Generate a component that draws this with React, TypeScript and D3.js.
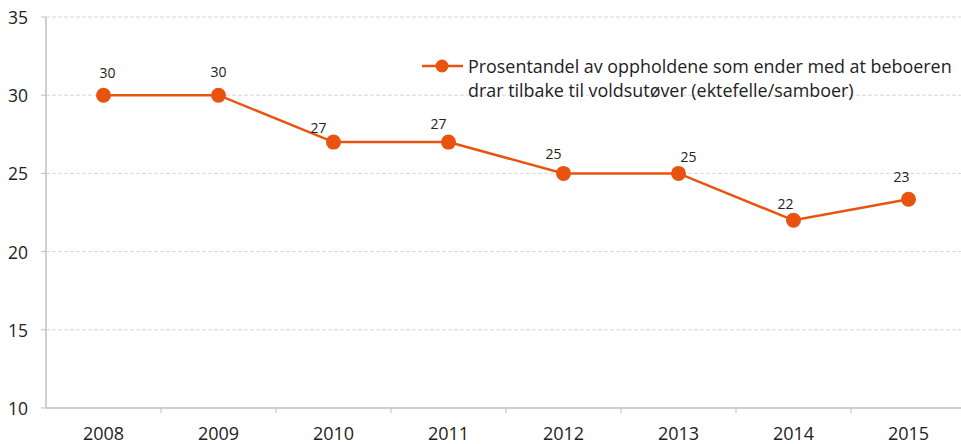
import React from "react";
import * as d3 from "d3";

const years = ["2008", "2009", "2010", "2011", "2012", "2013", "2014", "2015"];
const values = [30, 30, 27, 27, 25, 25, 22, 23.35];
const labels = ["30", "30", "27", "27", "25", "25", "22", "23"];
const yTicks = [10, 15, 20, 25, 30, 35];
const legendLines = [
  "Prosentandel av oppholdene som ender med at beboeren",
  "drar tilbake til voldsutøver (ektefelle/samboer)",
];
// label placement offsets (style), in px relative to each point
const labelDx = [4, 0, -15, -10, -10, 10, -8, -7];
const labelDy = [-23, -24, -15, -19, -20, -17, -17, -23];

const W = 961;
const H = 444;
const COLOR = "#E8540F";
const FONT = "'Open Sans', 'Liberation Sans', sans-serif";

export default function App() {
  const x = d3.scaleBand<string>().domain(years).range([46, 966]);
  const y = d3.scaleLinear().domain([10, 35]).range([408, 17]);
  const cx = (i: number) => (x(years[i]) as number) + x.bandwidth() / 2;
  const line = d3
    .line<number>()
    .x((_, i) => cx(i))
    .y((d) => y(d));

  return (
    <svg width={W} height={H} style={{ position: "absolute", left: 0, top: 0, background: "#fff" }}>
      {yTicks.map((t) => (
        <g key={t}>
          {t !== 10 && (
            <line x1={46} x2={W} y1={y(t)} y2={y(t)} stroke="#d9d9d9" strokeWidth={1} strokeDasharray="4 2" />
          )}
          <line x1={41} x2={46} y1={y(t)} y2={y(t)} stroke="#bfbfbf" strokeWidth={1} />
          <text x={28} y={y(t)} textAnchor="end" dominantBaseline="central" fontFamily={FONT} fontSize={17.5} fill="#222">
            {t}
          </text>
        </g>
      ))}
      <line x1={46} x2={46} y1={y(35)} y2={y(10)} stroke="#bfbfbf" strokeWidth={1.5} />
      <line x1={46} x2={W} y1={y(10)} y2={y(10)} stroke="#bfbfbf" strokeWidth={1.5} />
      {years.map((yr) => (
        <line key={"t" + yr} x1={(x(yr) as number) + x.bandwidth()} x2={(x(yr) as number) + x.bandwidth()} y1={408} y2={413} stroke="#bfbfbf" strokeWidth={1} />
      ))}
      {years.map((yr, i) => (
        <text key={yr} x={cx(i)} y={433} textAnchor="middle" dominantBaseline="central" fontFamily={FONT} fontSize={18} fill="#222">
          {yr}
        </text>
      ))}
      <path d={line(values) || ""} fill="none" stroke={COLOR} strokeWidth={2.5} />
      {values.map((v, i) => (
        <g key={i}>
          <circle cx={cx(i)} cy={y(v)} r={7.5} fill={COLOR} />
          <text x={cx(i) + labelDx[i]} y={y(v) + labelDy[i]} textAnchor="middle" dominantBaseline="central" fontFamily={FONT} fontSize={14} fill="#222">
            {labels[i]}
          </text>
        </g>
      ))}
      <line x1={422} x2={463} y1={66} y2={66} stroke={COLOR} strokeWidth={2.5} />
      <circle cx={442} cy={66} r={6.5} fill={COLOR} />
      {legendLines.map((l, i) => (
        <text key={i} x={468} y={66 + i * 24} dominantBaseline="central" fontFamily={FONT} fontSize={17.9} fill="#222">
          {l}
        </text>
      ))}
    </svg>
  );
}
